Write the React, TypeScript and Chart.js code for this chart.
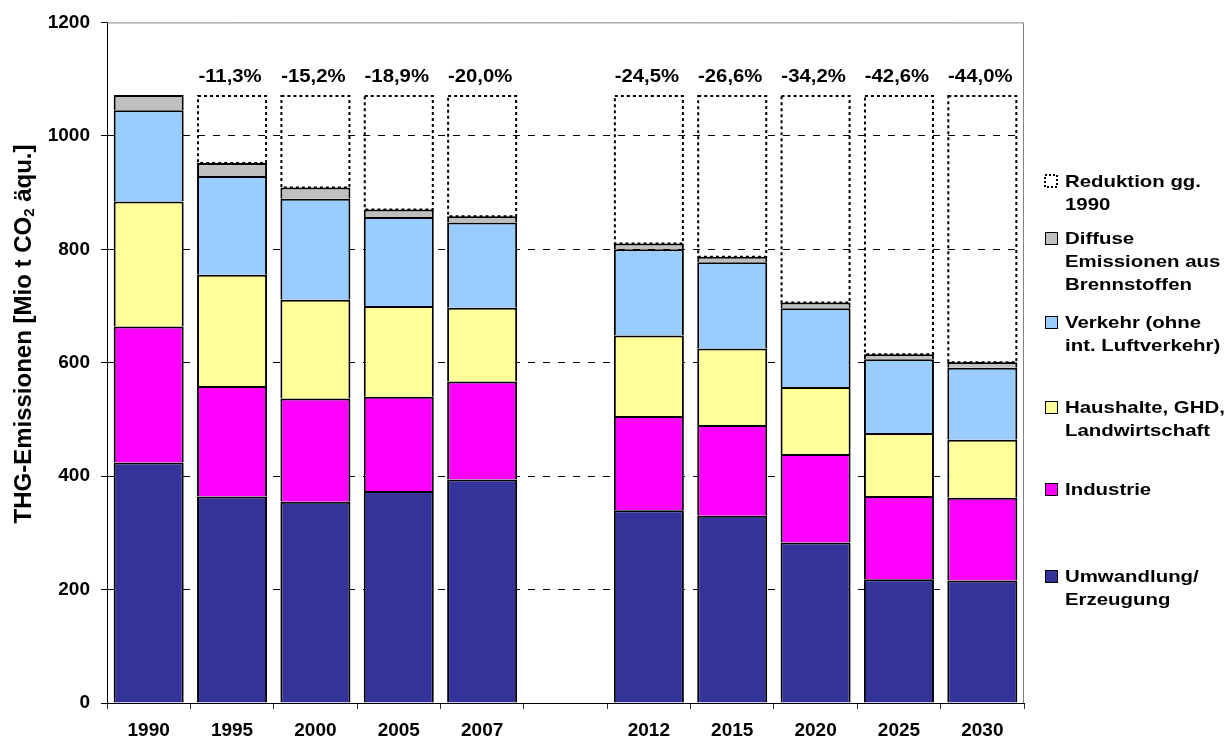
import React, { useEffect, useRef } from "react";
import { Chart, registerables } from "chart.js";

Chart.register(...registerables);

const FONT = '"Liberation Sans", Arial, sans-serif';

// ---- data ----
const years = ["1990", "1995", "2000", "2005", "2007", "", "2012", "2015", "2020", "2025", "2030"];
const umwandlung = [424, 364, 355, 374, 394, null, 340, 330, 283, 218, 216];
const industrie = [240, 195, 182, 166, 173, null, 166, 160, 156, 147, 146];
const haushalte = [220, 196, 174, 160, 130, null, 142, 135, 118, 111, 102];
const verkehr = [161, 174, 178, 157, 150, null, 152, 152, 139, 130, 127];
const diffuse = [27, 23, 20, 13, 11, null, 10, 10, 10, 9, 10];
const reduktion = [null, 120, 163, 202, 214, null, 262, 285, 366, 457, 471];
const reduktionLabels = ["", "-11,3%", "-15,2%", "-18,9%", "-20,0%", "", "-24,5%", "-26,6%", "-34,2%", "-42,6%", "-44,0%"];
const yTicks = [0, 200, 400, 600, 800, 1000, 1200];

const seriesNames = [
  "Umwandlung/\nErzeugung",
  "Industrie",
  "Haushalte, GHD,\nLandwirtschaft",
  "Verkehr (ohne\nint. Luftverkehr)",
  "Diffuse\nEmissionen aus\nBrennstoffen",
  "Reduktion gg.\n1990",
];
const seriesColors = ["#333399", "#FF00FF", "#FFFF99", "#99CCFF", "#C0C0C0", "rgba(0,0,0,0)"];
const yTitle = ["THG-Emissionen [Mio t CO", "2", " äqu.]"];

function drawText(ctx: CanvasRenderingContext2D, text: string, x: number, y: number, size: number, sx: number, align: CanvasTextAlign) {
  ctx.save();
  ctx.translate(x, y);
  ctx.scale(sx, 1);
  ctx.font = `bold ${size}px ${FONT}`;
  ctx.textAlign = align;
  ctx.textBaseline = "middle";
  ctx.fillStyle = "#000";
  ctx.fillText(text, 0, 0);
  ctx.restore();
}

const customPlugin = {
  id: "custom",
  beforeDatasetsDraw(chart: any) {
    const { ctx, chartArea: a } = chart;
    ctx.save();
    ctx.strokeStyle = "#808080";
    ctx.lineWidth = 1;
    ctx.beginPath();
    ctx.moveTo(a.left, a.top + 0.5);
    ctx.lineTo(a.right - 0.5, a.top + 0.5);
    ctx.lineTo(a.right - 0.5, a.bottom);
    ctx.stroke();
    ctx.restore();
  },
  afterDatasetsDraw(chart: any) {
    const { ctx } = chart;
    const idx = chart.data.datasets.length - 1;
    const meta = chart.getDatasetMeta(idx);
    meta.data.forEach((el: any, i: number) => {
      if (reduktion[i] == null) return;
      const { x, y, base, width } = el.getProps(["x", "y", "base", "width"], true);
      ctx.save();
      ctx.strokeStyle = "#000";
      ctx.lineWidth = 2;
      ctx.setLineDash([3, 3]);
      ctx.strokeRect(x - width / 2 + 1, y + 1, width - 2, base - y - 1);
      ctx.restore();
      drawText(ctx, reduktionLabels[i], x - 2, y - 18, 18, 1.13, "center");
    });
  },
  afterDraw(chart: any) {
    const { ctx } = chart;
    // legend
    const legendY = [182, 239, 323, 408, 490, 577];
    const order = [5, 4, 3, 2, 1, 0];
    order.forEach((di, k) => {
      const ly = legendY[k];
      const ds = chart.data.datasets[di];
      ctx.save();
      if (di === 5) {
        ctx.fillStyle = "#fff";
        ctx.fillRect(1045, ly - 7, 12, 12);
        ctx.strokeStyle = "#000";
        ctx.lineWidth = 2;
        ctx.setLineDash([2, 2]);
        ctx.strokeRect(1045, ly - 7, 12, 12);
      } else {
        ctx.fillStyle = ds.backgroundColor;
        ctx.fillRect(1045.5, ly - 6.5, 12, 12);
        ctx.strokeStyle = "#000";
        ctx.lineWidth = 1;
        ctx.strokeRect(1045.5, ly - 6.5, 12, 12);
      }
      ctx.restore();
      String(ds.label).split("\n").forEach((line, j) => {
        drawText(ctx, line, 1065, ly + j * 23, 17, 1.2, "left");
      });
    });
    // y axis title
    ctx.save();
    ctx.translate(24, 334);
    ctx.rotate(-Math.PI / 2);
    ctx.fillStyle = "#000";
    ctx.textBaseline = "middle";
    ctx.textAlign = "left";
    const big = `bold 24px ${FONT}`;
    const small = `bold 15px ${FONT}`;
    ctx.font = big;
    const w1 = ctx.measureText(yTitle[0]).width;
    const w3 = ctx.measureText(yTitle[2]).width;
    ctx.font = small;
    const w2 = ctx.measureText(yTitle[1]).width;
    const total = w1 + w2 + w3;
    let px = -total / 2;
    ctx.font = big;
    ctx.fillText(yTitle[0], px, 0);
    px += w1;
    ctx.font = small;
    ctx.fillText(yTitle[1], px, 6);
    px += w2;
    ctx.font = big;
    ctx.fillText(yTitle[2], px, 0);
    ctx.restore();
  },
};

export default function App() {
  const ref = useRef<HTMLCanvasElement>(null);
  useEffect(() => {
    if (!ref.current) return;
    const data = [umwandlung, industrie, haushalte, verkehr, diffuse, reduktion];
    const chart = new Chart(ref.current, {
      type: "bar",
      data: {
        labels: years,
        datasets: data.map((d, i) => ({
          label: seriesNames[i],
          data: d as any,
          backgroundColor: seriesColors[i],
          borderColor: i === 5 ? "rgba(0,0,0,0)" : "#000",
          borderWidth: i === 5 ? 0 : 2,
          stack: "s",
          categoryPercentage: 1,
          barPercentage: 0.84,
        })),
      },
      options: {
        animation: false,
        responsive: true,
        maintainAspectRatio: false,
        layout: { padding: { top: 20, right: 206, left: 0, bottom: 0 } },
        plugins: { legend: { display: false }, tooltip: { enabled: false } },
        scales: {
          x: {
            stacked: true,
            afterFit: (s: any) => { s.height = 41; },
            grid: { display: true, drawOnChartArea: false, offset: true, tickLength: 6, tickColor: "#333" },
            border: { color: "#000", width: 1 },
            ticks: { font: { family: FONT, size: 19, weight: "bold" }, color: "#000", padding: 10, maxRotation: 0, autoSkip: false },
          },
          y: {
            stacked: true,
            min: 0,
            max: 1200,
            afterFit: (s: any) => { s.width = 107; },
            afterBuildTicks: (s: any) => { s.ticks = yTicks.map((v) => ({ value: v })); },
            grid: {
              color: (c: any) => (c.tick && (c.tick.value === 0 || c.tick.value === 1200) ? "rgba(0,0,0,0)" : "#000"),
              tickColor: "#000",
              tickLength: 6,
              lineWidth: 1,
            },
            border: { color: "#000", width: 1, dash: [7, 8] },
            ticks: { font: { family: FONT, size: 19, weight: "bold" }, color: "#000", padding: 11, callback: (v: any) => String(v) },
          },
        },
      },
      plugins: [customPlugin],
    });
    return () => chart.destroy();
  }, []);
  return (
    <div style={{ position: "fixed", left: 0, top: 0, width: 1230, height: 744, background: "#fff" }}>
      <canvas ref={ref} />
    </div>
  );
}
